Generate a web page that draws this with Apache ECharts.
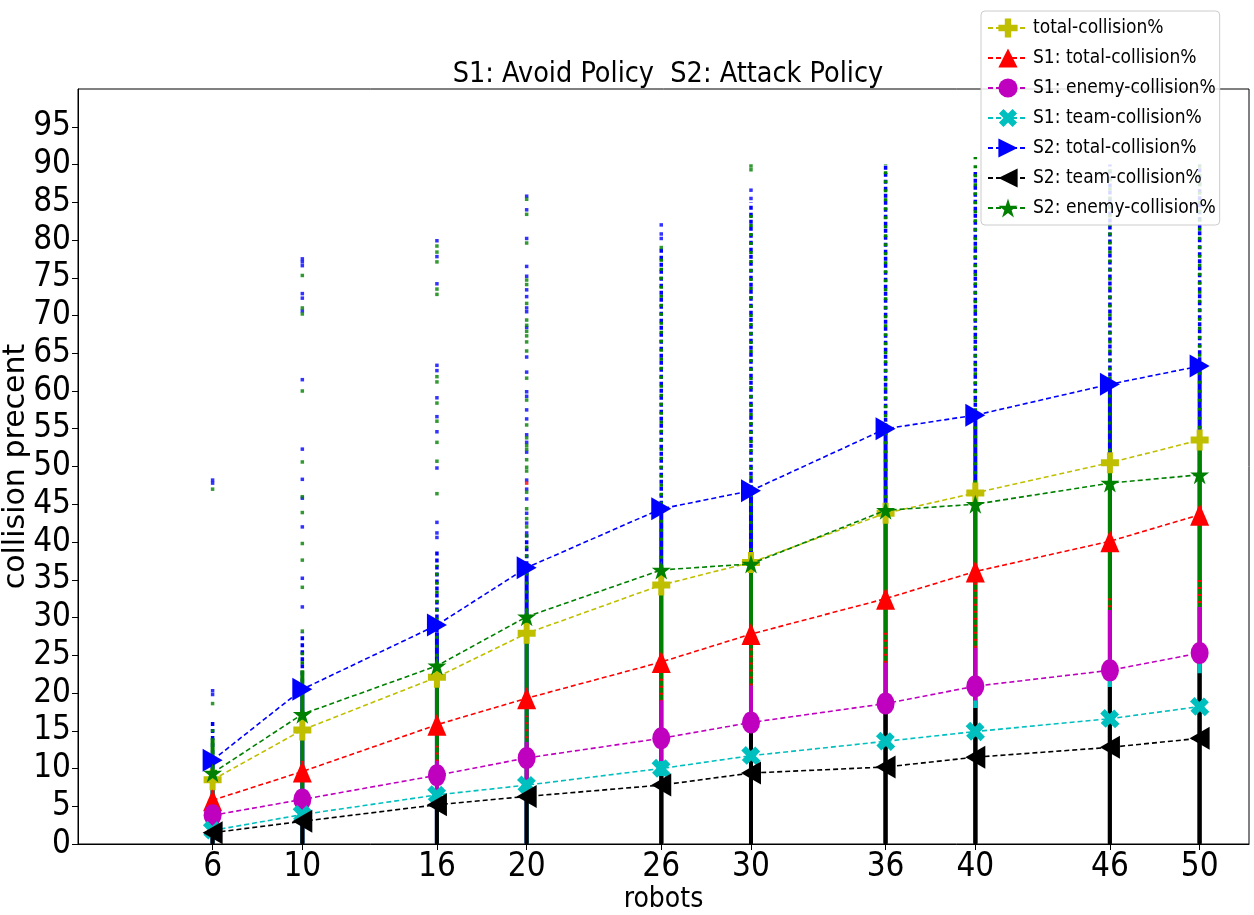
<!DOCTYPE html>
<html>
<head>
<meta charset="utf-8">
<script src="https://cdn.jsdelivr.net/npm/echarts@6/dist/echarts.min.js"></script>
<style>
html,body{margin:0;padding:0;background:#fff;}
#chart{width:1254px;height:915px;}
</style>
</head>
<body>
<div id="chart"></div>
<script>
// ---------- data ----------
const robots = [6, 10, 16, 20, 26, 30, 36, 40, 46, 50];
const yTickValues = [0,5,10,15,20,25,30,35,40,45,50,55,60,65,70,75,80,85,90,95];

const totalCollision = [8.5, 15.1, 22.1, 27.9, 34.3, 37.3, 43.8, 46.5, 50.5, 53.5];
const s1Total        = [5.8, 9.6, 15.8, 19.3, 24.1, 27.8, 32.5, 36.1, 40.1, 43.6];
const s1Enemy        = [3.8, 5.9, 9.1, 11.4, 14.0, 16.1, 18.6, 20.9, 23.0, 25.3];
const s1Team         = [1.8, 3.9, 6.5, 7.8, 10.0, 11.7, 13.6, 14.9, 16.6, 18.2];
const s2Total        = [11.1, 20.5, 29.0, 36.6, 44.4, 46.8, 55.0, 56.8, 60.9, 63.3];
const s2Team         = [1.5, 3.0, 5.2, 6.3, 7.8, 9.4, 10.2, 11.5, 12.8, 14.0];
const s2Enemy        = [9.4, 17.2, 23.6, 30.1, 36.3, 37.1, 44.2, 45.0, 47.8, 48.9];

// raw per-run values: dense spans [robots, low, high]
const blueDense   = [[6,0,11],[10,0,20.5],[16,0,28],[20,0,36],[26,0,44],[30,0,46],[36,0,55],[40,0,57],[46,0,61],[50,0,63]];
const blueSparse  = [[6,11,16.5],[10,20.5,28],[16,28,39],[20,36,41],[26,44,79],[30,46,85],[36,55,90],[40,57,89],[46,61,90],[50,63,90]];
const greenDense  = [[6,0,14],[10,0,23],[16,0,24],[20,0,30],[26,0,37],[30,0,38],[36,0,45],[40,0,47],[46,0,50],[50,0,53]];
const greenSparse = [[6,14,16],[10,23,26],[16,24,37],[20,30,40],[26,37,78],[30,38,84],[36,45,90],[40,47,91],[46,50,90],[50,53,90]];
const redSparse   = [[6,5,7],[10,9,11],[16,10,13],[20,14,17],[26,17,22.5],[30,21,27],[36,24,28],[40,26,35],[46,29.5,33],[50,31,35]];
const magentaDense= [[6,0,4.5],[10,0,6.5],[16,0,11],[20,0,13.5],[26,0,19],[30,0,21],[36,0,24],[40,0,26],[46,0,31],[50,0,31.4]];
const cyanDense   = [[6,0,2.2],[10,0,4.5],[16,0,7],[20,0,8.5],[26,0,11],[30,0,13],[36,0,15],[40,0,19],[46,0,24.4],[50,0,24]];
const blackDense  = [[6,0,2],[10,0,3.5],[16,0,5],[20,0,6],[26,0,9],[30,0,14.7],[36,0,17.3],[40,0,18],[46,0,20.8],[50,0,22.6]];

// isolated raw values [robots, value]
const blueDots = [
  [6,48.2],[6,47.8],[6,20.3],[6,19.8],
  [10,77.5],[10,77.1],[10,76.6],[10,72.9],[10,72.3],[10,70.6],[10,61.5],[10,52.3],[10,48.3],[10,45.8],[10,42.0],[10,35.2],[10,31.4],
  [16,79.9],[16,77.8],[16,74.2],[16,63.4],[16,62.7],[16,59.1],[16,56.6],[16,54.6],[16,49.8],[16,42.6],[16,41.2],[16,40.6],
  [20,85.8],[20,84.0],[20,80.2],[20,76.5],[20,75.2],[20,73.4],[20,72.5],[20,71.0],[20,70.5],[20,68.4],[20,64.5],[20,62.5],[20,59.9],[20,59.3],[20,57.5],[20,56.3],[20,54.2],[20,53.2],[20,51.9],[20,48.2],[20,47.0],[20,45.7],[20,43.8],[20,42.5],[20,41.2],
  [26,82.0],[26,80.8],[26,80.2],
  [30,86.6],[30,85.5]
];
const greenDots = [
  [6,47.0],[6,18.6],
  [10,75.3],[10,71.0],[10,70.2],[10,60.0],[10,50.6],[10,46.0],[10,43.9],[10,39.8],[10,37.6],[10,34.0],[10,28.2],
  [16,79.2],[16,78.4],[16,77.1],[16,73.5],[16,72.8],[16,61.9],[16,61.2],[16,58.4],[16,56.0],[16,53.2],[16,50.7],[16,46.4],
  [20,85.4],[20,83.4],[20,79.6],[20,74.7],[20,74.1],[20,71.6],[20,69.4],[20,68.7],[20,67.9],[20,67.3],[20,66.5],[20,65.3],[20,61.7],[20,58.8],[20,55.5],[20,53.8],[20,52.8],[20,52.3],[20,50.9],[20,49.9],[20,49.4],[20,46.6],[20,44.4],[20,43.1],[20,42.0],[20,40.8],
  [26,79.0],
  [30,89.8],[30,89.3]
];
const redDots = [[20,47.8]];

// ---------- helpers ----------
const C = {yellow:'#bfbf00', red:'#ff0000', magenta:'#bf00bf', cyan:'#00bfbf', blue:'#0000ff', black:'#000000', green:'#008000'};
const FONT = "'DejaVu Sans Condensed','DejaVu Sans',sans-serif";

function spanSeries(data, color, width, dash, dashOffset, z) {
  return {
    type: 'custom', data: data, z: z, silent: true, clip: true,
    encode: {x: 0, y: [1, 2]},
    renderItem: function (params, api) {
      const p1 = api.coord([api.value(0), api.value(1)]);
      const p2 = api.coord([api.value(0), api.value(2)]);
      return {type: 'line', shape: {x1: p1[0], y1: p1[1], x2: p2[0], y2: p2[1]},
        style: {stroke: color, lineWidth: width, lineDash: dash, lineDashOffset: dashOffset || 0}};
    }
  };
}
function dotSeries(data, color, z) {
  return {type: 'scatter', data: data, symbol: 'rect', symbolSize: [3.5, 3.5], z: z, silent: true,
    itemStyle: {color: color}};
}
const P_PLUS = 'path://M-1,-3L1,-3L1,-1L3,-1L3,1L1,1L1,3L-1,3L-1,1L-3,1L-3,-1L-1,-1Z';
const P_UP = 'path://M1,0L2,2L0,2Z';
const P_RIGHT = 'path://M0,0L2,1L0,2Z';
const P_LEFT = 'path://M2,0L0,1L2,2Z';
const P_STAR = 'path://M0,-100L22.45,-30.9L95.1,-30.9L36.3,11.8L58.8,80.9L0,38.2L-58.8,80.9L-36.3,11.8L-95.1,-30.9L-22.45,-30.9Z';

function mainSeries(name, vals, color, symbol, size, rotate, z) {
  return {
    name: name, type: 'line', z: z,
    data: robots.map((x, i) => [x, vals[i]]),
    symbol: symbol, symbolSize: size, symbolRotate: rotate || 0, showSymbol: true,
    lineStyle: {color: color, width: 1.6, type: [5, 3]},
    itemStyle: {color: color, borderWidth: 0},
    emphasis: {disabled: true}, animation: false
  };
}

const series = [
  spanSeries(blueDense, C.blue, 4, null, 0, 1),
  spanSeries(blueSparse, C.blue, 3.5, [4, 3], 0, 1),
  spanSeries(greenDense, C.green, 4, null, 0, 2),
  spanSeries(greenSparse, C.green, 3.5, [3, 6], 3, 2),
  spanSeries(redSparse, C.red, 3.5, [2, 5], 0, 3),
  spanSeries(magentaDense, C.magenta, 4, null, 0, 4),
  spanSeries(cyanDense, C.cyan, 4, null, 0, 5),
  spanSeries(blackDense, C.black, 4, null, 0, 6),
  dotSeries(blueDots, C.blue, 7),
  dotSeries(greenDots, C.green, 7),
  dotSeries(redDots, C.red, 7),
  mainSeries('total-collision%', totalCollision, C.yellow, P_PLUS, [18, 21], 0, 10),
  mainSeries('S1: total-collision%', s1Total, C.red, P_UP, [19, 22], 0, 11),
  mainSeries('S1: enemy-collision%', s1Enemy, C.magenta, 'circle', [18, 22], 0, 12),
  mainSeries('S1: team-collision%', s1Team, C.cyan, P_PLUS, [19, 21], 45, 13),
  mainSeries('S2: total-collision%', s2Total, C.blue, P_RIGHT, [20, 23], 0, 14),
  mainSeries('S2: team-collision%', s2Team, C.black, P_LEFT, [20, 23], 0, 15),
  mainSeries('S2: enemy-collision%', s2Enemy, C.green, P_STAR, [19, 19], 0, 16)
];

const chart = echarts.init(document.getElementById('chart'), null, {renderer: 'canvas'});
chart.setOption({
  animation: false,
  backgroundColor: '#fff',
  title: {
    text: 'S1: Avoid Policy  S2: Attack Policy', left: 663, textAlign: 'center', top: 55,
    textStyle: {fontFamily: FONT, fontSize: 28.5, fontWeight: 'normal', color: '#000'}
  },
  legend: {
    orient: 'vertical', left: 981, top: 11,
    padding: [2, 4, 2, 6], itemGap: 0, itemWidth: 40, itemHeight: 24,
    backgroundColor: 'rgba(255,255,255,0.85)', borderColor: '#cccccc', borderWidth: 1, borderRadius: 4,
    textStyle: {fontFamily: FONT, fontSize: 19, color: '#000', lineHeight: 30, height: 30},
    data: ['total-collision%', 'S1: total-collision%', 'S1: enemy-collision%', 'S1: team-collision%',
           'S2: total-collision%', 'S2: team-collision%', 'S2: enemy-collision%'],
    z: 50
  },
  grid: {left: 78, right: 5, top: 89, bottom: 71, containLabel: false, outerBoundsMode: 'none',
    show: true, borderColor: '#000', borderWidth: 1, backgroundColor: 'transparent'},
  xAxis: {
    type: 'value', min: 0, max: 52.2,
    name: 'robots', nameLocation: 'middle', nameGap: 42, nameMoveOverlap: false,
    nameTextStyle: {fontFamily: FONT, fontSize: 28, color: '#000'},
    axisLine: {show: true, onZero: false, lineStyle: {color: '#000', width: 1}},
    axisTick: {show: true, length: 6, inside: false, customValues: robots, lineStyle: {color: '#000'}},
    axisLabel: {customValues: robots, margin: 7, fontFamily: FONT, fontSize: 33, color: '#000'},
    splitLine: {show: false}
  },
  yAxis: {
    type: 'value', min: 0, max: 100,
    name: 'collision precent', nameLocation: 'middle', nameGap: 47, nameRotate: 90, nameMoveOverlap: false,
    nameTextStyle: {fontFamily: "'DejaVu Sans',sans-serif", fontSize: 30, color: '#000'},
    axisLine: {show: true, onZero: false, lineStyle: {color: '#000', width: 1}},
    axisTick: {show: true, length: 6, inside: false, customValues: yTickValues, lineStyle: {color: '#000'}},
    axisLabel: {customValues: yTickValues, margin: 7, fontFamily: FONT, fontSize: 33, color: '#000'},
    splitLine: {show: false}
  },
  series: series
});
</script>
</body>
</html>
